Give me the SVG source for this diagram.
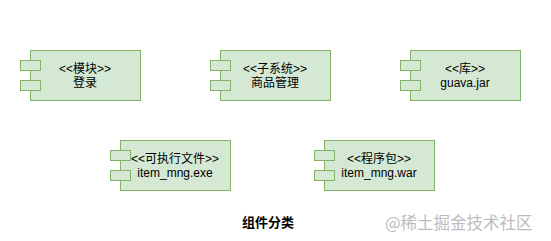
<svg xmlns="http://www.w3.org/2000/svg" width="551" height="241" viewBox="0 0 551 241">
  <style>
    .body { fill: #d5e8d4; stroke: #82b366; stroke-width: 1; }
    .port { fill: #d5e8d4; stroke: #82b366; stroke-width: 1; }
    .lbl { font-family: "Liberation Sans", "Noto Sans CJK SC", sans-serif; font-size: 12px; fill: #000; text-anchor: middle; }
    .cap { font-family: "Liberation Sans", "Noto Sans CJK SC", sans-serif; font-size: 13px; font-weight: bold; fill: #000; }
    .mark { font-family: "Noto Sans CJK SC", sans-serif; font-size: 16.5px; fill: #bdbdbd; }
  </style>
  <rect width="551" height="241" fill="#ffffff"/>

  <g id="module-login">
    <rect class="body" x="30.5" y="50.5" width="110" height="50"/>
    <rect class="port" x="20.5" y="60.5" width="20" height="10"/>
    <rect class="port" x="20.5" y="80.5" width="20" height="10"/>
    <text class="lbl" x="85" y="73">&lt;&lt;模块&gt;&gt;</text>
    <text class="lbl" x="85" y="87">登录</text>
  </g>

  <g id="subsystem-goods">
    <rect class="body" x="220.5" y="50.5" width="110" height="50"/>
    <rect class="port" x="210.5" y="60.5" width="20" height="10"/>
    <rect class="port" x="210.5" y="80.5" width="20" height="10"/>
    <text class="lbl" x="275" y="73">&lt;&lt;子系统&gt;&gt;</text>
    <text class="lbl" x="275" y="87">商品管理</text>
  </g>

  <g id="library-guava">
    <rect class="body" x="410.5" y="50.5" width="110" height="50"/>
    <rect class="port" x="400.5" y="60.5" width="20" height="10"/>
    <rect class="port" x="400.5" y="80.5" width="20" height="10"/>
    <text class="lbl" x="465" y="73">&lt;&lt;库&gt;&gt;</text>
    <text class="lbl" x="465" y="87">guava.jar</text>
  </g>

  <g id="executable">
    <rect class="body" x="120.5" y="140.5" width="110" height="50"/>
    <rect class="port" x="110.5" y="150.5" width="20" height="10"/>
    <rect class="port" x="110.5" y="170.5" width="20" height="10"/>
    <text class="lbl" x="175" y="163">&lt;&lt;可执行文件&gt;&gt;</text>
    <text class="lbl" x="175" y="177">item_mng.exe</text>
  </g>

  <g id="package-war">
    <rect class="body" x="324.5" y="140.5" width="110" height="50"/>
    <rect class="port" x="314.5" y="150.5" width="20" height="10"/>
    <rect class="port" x="314.5" y="170.5" width="20" height="10"/>
    <text class="lbl" x="379" y="163">&lt;&lt;程序包&gt;&gt;</text>
    <text class="lbl" x="379" y="177">item_mng.war</text>
  </g>

  <g id="connectors"></g>

  <text class="cap" x="242" y="227">组件分类</text>
  <text class="mark" x="385" y="229">@稀土掘金技术社区</text>
</svg>
